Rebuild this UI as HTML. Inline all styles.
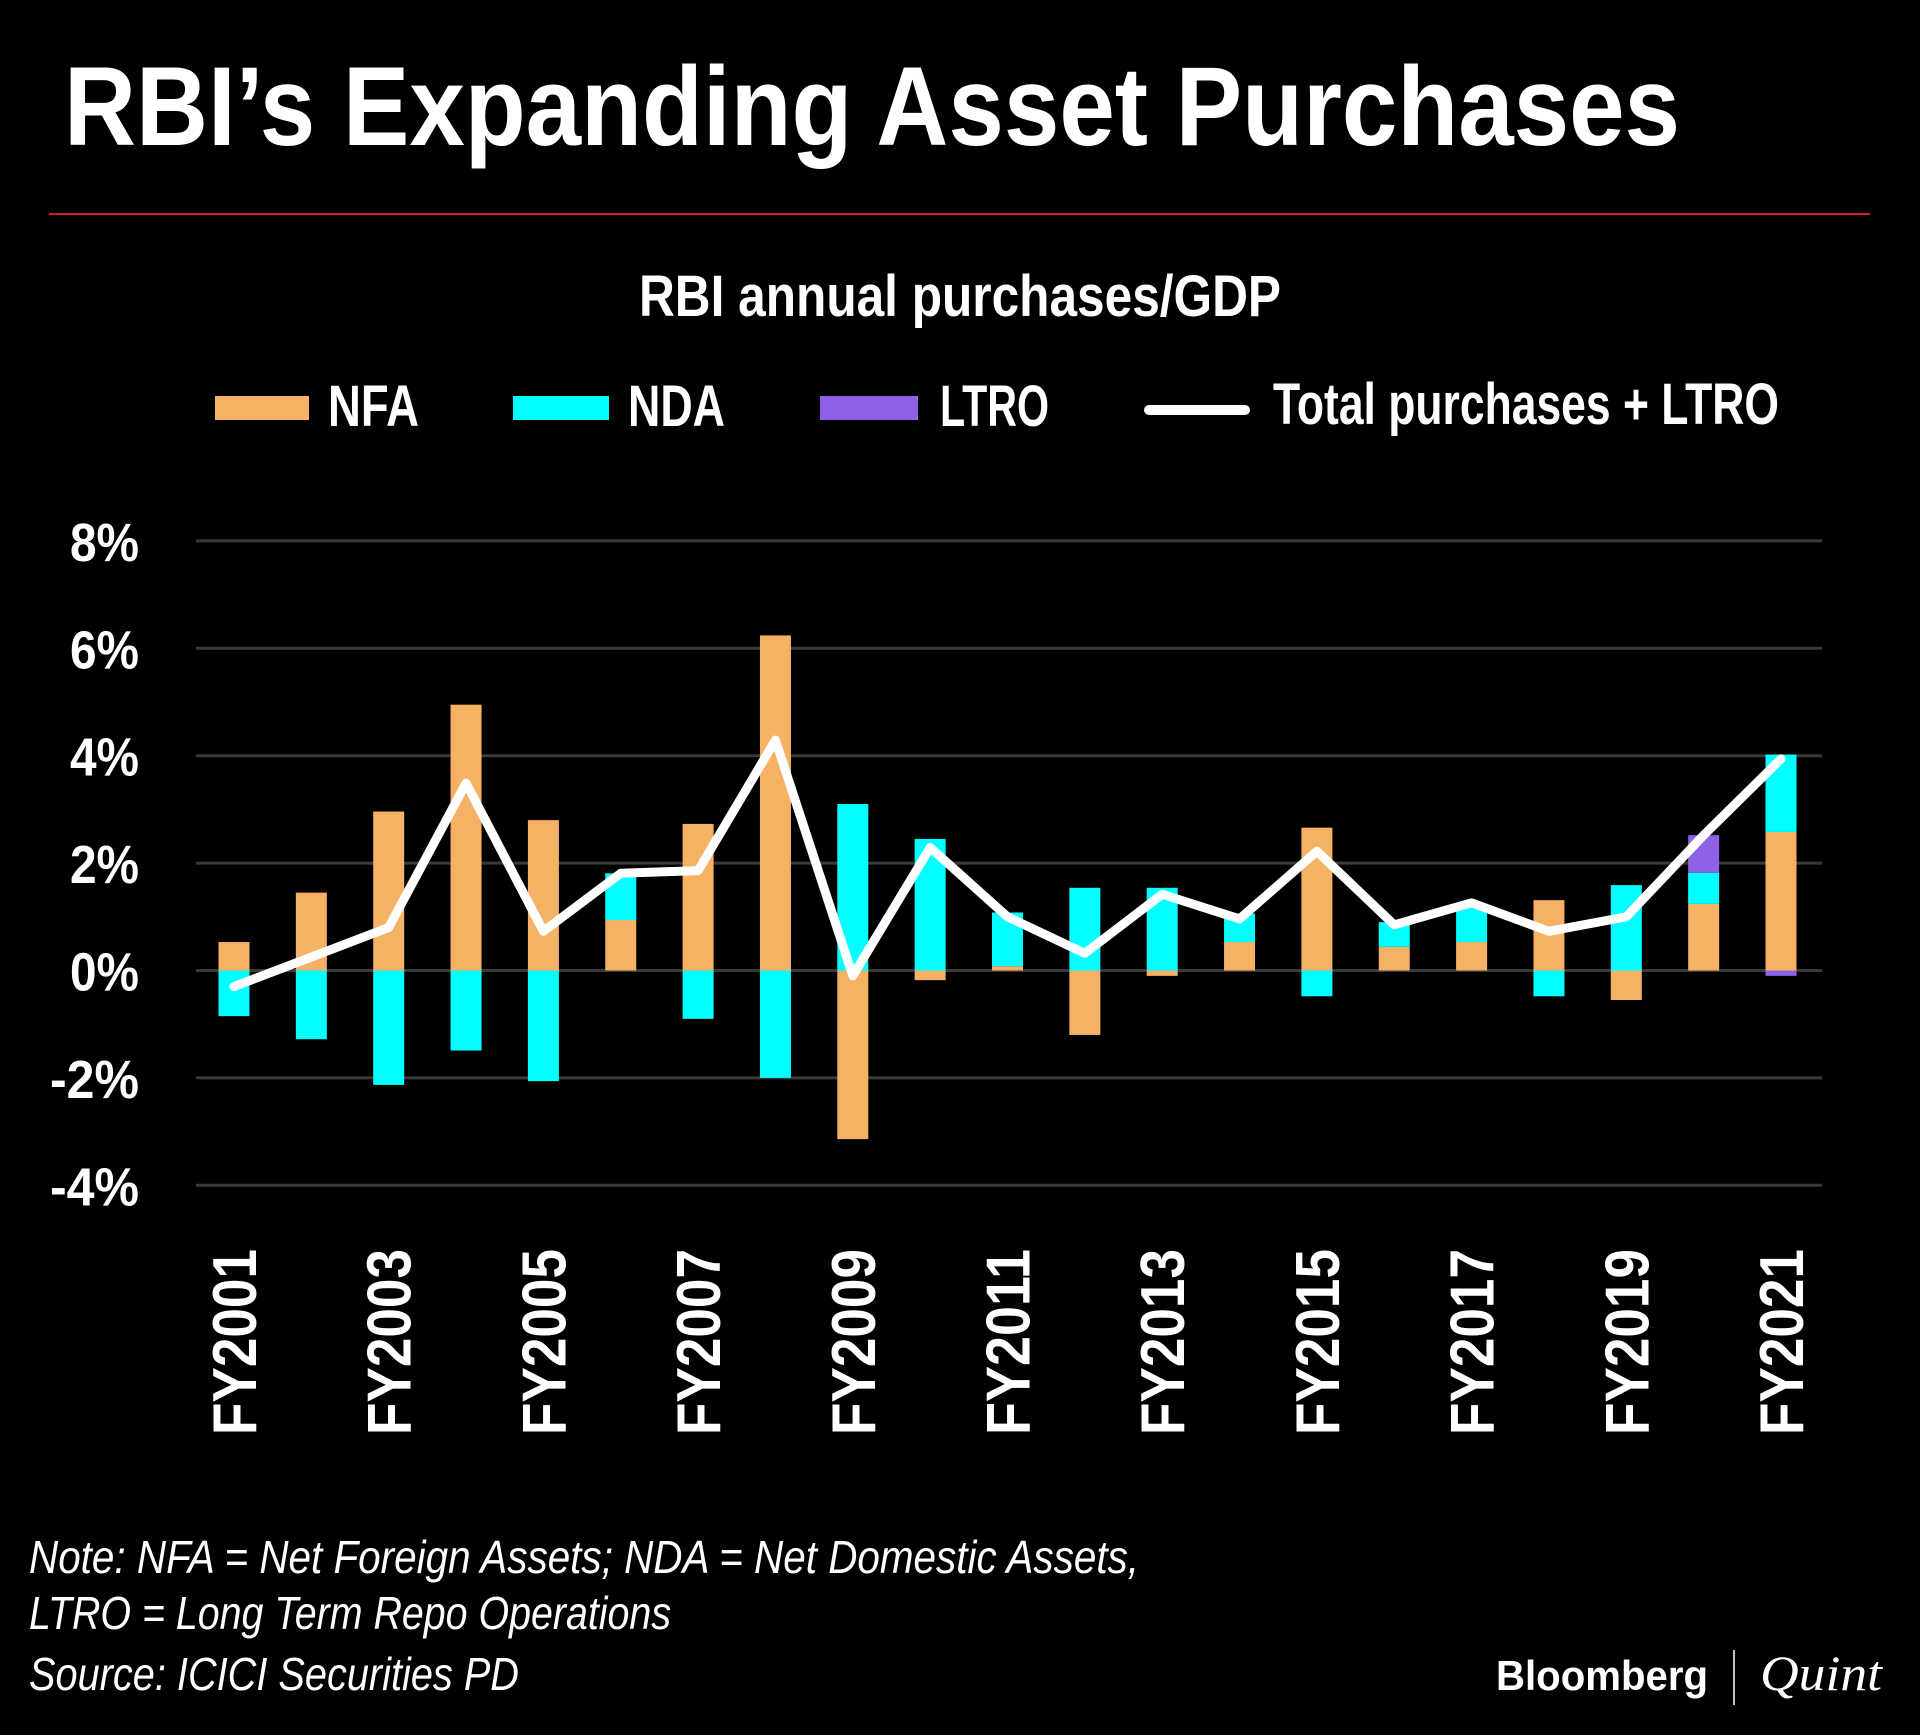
<!DOCTYPE html>
<html><head><meta charset="utf-8"><style>
html,body{margin:0;padding:0;background:#000;}
svg{display:block;}
.c{font-family:"Liberation Sans Narrow","Liberation Sans",sans-serif;fill:#fff;}
</style></head><body>
<svg id="chart" width="1920" height="1735" viewBox="0 0 1920 1735" xmlns="http://www.w3.org/2000/svg">
<rect width="1920" height="1735" fill="#000"/>
<text class="c" x="64" y="145" font-size="112" font-weight="bold" textLength="1616" lengthAdjust="spacingAndGlyphs">RBI’s Expanding Asset Purchases</text>
<line x1="49" y1="214" x2="1870" y2="214" stroke="#d0202a" stroke-width="2"/>
<text class="c" x="639" y="316" font-size="58" font-weight="bold" textLength="642" lengthAdjust="spacingAndGlyphs">RBI annual purchases/GDP</text>
<g>
<rect x="215" y="396" width="94" height="24" fill="#f5b264"/>
<text class="c" x="328" y="426" font-size="58" font-weight="bold" textLength="91" lengthAdjust="spacingAndGlyphs">NFA</text>
<rect x="513" y="396" width="96" height="24" fill="#00ffff"/>
<text class="c" x="628" y="426" font-size="58" font-weight="bold" textLength="97" lengthAdjust="spacingAndGlyphs">NDA</text>
<rect x="820" y="396" width="98" height="24" fill="#8e62e6"/>
<text class="c" x="940" y="426" font-size="58" font-weight="bold" textLength="109" lengthAdjust="spacingAndGlyphs">LTRO</text>
<line x1="1149" y1="410" x2="1245" y2="410" stroke="#fff" stroke-width="10" stroke-linecap="round"/>
<text class="c" x="1273" y="424" font-size="58" font-weight="bold" textLength="506" lengthAdjust="spacingAndGlyphs">Total purchases + LTRO</text>
</g>
<g id="grid"></g>
<g id="yaxis"></g>
<g id="bars"></g>
<g id="line"></g>
<g id="xaxis"></g>
<g>
<text class="c" x="29" y="1573" font-size="46" font-style="italic" textLength="1110" lengthAdjust="spacingAndGlyphs">Note: NFA = Net Foreign Assets; NDA = Net Domestic Assets,</text>
<text class="c" x="29" y="1629" font-size="46" font-style="italic" textLength="642" lengthAdjust="spacingAndGlyphs">LTRO = Long Term Repo Operations</text>
<text class="c" x="29" y="1690" font-size="46" font-style="italic" textLength="490" lengthAdjust="spacingAndGlyphs">Source: ICICI Securities PD</text>
</g>
<g>
<text x="1496" y="1690" font-family="'Liberation Sans',sans-serif" font-weight="bold" font-size="42" fill="#fff" textLength="212" lengthAdjust="spacingAndGlyphs">Bloomberg</text>
<line x1="1734" y1="1650" x2="1734" y2="1705" stroke="#fff" stroke-width="1.5"/>
<text x="1760" y="1690" font-family="'Liberation Serif',serif" font-style="italic" font-size="50" fill="#fff" textLength="122" lengthAdjust="spacingAndGlyphs">Quint</text>
</g>
</svg>
<script>
const years = ["FY2001","FY2002","FY2003","FY2004","FY2005","FY2006","FY2007","FY2008","FY2009","FY2010","FY2011","FY2012","FY2013","FY2014","FY2015","FY2016","FY2017","FY2018","FY2019","FY2020","FY2021"];
const nfa = [0.53,1.45,2.96,4.95,2.8,0.94,2.73,6.24,-3.14,-0.18,0.08,-1.2,-0.1,0.53,2.66,0.44,0.53,1.31,-0.55,1.24,2.58];
const nda = [-0.85,-1.28,-2.13,-1.49,-2.06,0.87,-0.9,-2.0,3.1,2.45,1.0,1.54,1.54,0.53,-0.48,0.46,0.71,-0.48,1.59,0.58,1.44];
const ltro = [0,0,0,0,0,0,0,0,0,0,0,0,0,0,0,0,0,0,0,0.7,-0.1];
const total = [-0.3,0.25,0.8,3.49,0.73,1.81,1.86,4.29,-0.1,2.29,1.0,0.32,1.42,0.96,2.22,0.85,1.26,0.73,1.0,2.52,3.94];
const yTicks = [8,6,4,2,0,-2,-4];
const yTickLabels = ["8%","6%","4%","2%","0%","-2%","-4%"];
const xLabelIdx = [0,2,4,6,8,10,12,14,16,18,20];

const NS="http://www.w3.org/2000/svg";
const y0=970.5, pxPer=53.7, x0=234, step=77.35, bw=31;
const yS=v=>y0-v*pxPer;
const xS=i=>x0+i*step;
function mk(t,a,p){const e=document.createElementNS(NS,t);for(const k in a)e.setAttribute(k,a[k]);p.appendChild(e);return e;}
const grid=document.getElementById('grid'), yax=document.getElementById('yaxis'), bars=document.getElementById('bars'), lg=document.getElementById('line'), xax=document.getElementById('xaxis');
yTicks.forEach((t,i)=>{
  const l=mk('line',{x1:196,x2:1822,y1:yS(t),y2:yS(t),stroke:'#3a3a3a','stroke-width':3},grid);
  
  
  const lab=yTickLabels[i];
  const tx=mk('text',{x:139,y:yS(t)+20,'text-anchor':'end','font-size':54,'font-weight':'bold',class:'c',textLength:lab.length>2?89:69,lengthAdjust:'spacingAndGlyphs'},yax);
  tx.textContent=lab;
  
  
});
function seg(i,a,b,col,name){
  if(a===b)return;
  const top=yS(Math.max(a,b)), bot=yS(Math.min(a,b));
  const r=mk('rect',{x:xS(i)-bw/2,y:top,width:bw,height:Math.max(bot-top,1),fill:col},bars);
  
  
}
years.forEach((yr,i)=>{
  let pos=0,neg=0;
  [[nfa[i],'#f5b264','bar-nfa'],[nda[i],'#00ffff','bar-nda'],[ltro[i],'#8e62e6','bar-ltro']].forEach(([v,c,n])=>{
    if(v>=0){seg(i,pos,pos+v,c,n);pos+=v;}else{seg(i,neg,neg+v,c,n);neg+=v;}
  });
});
const pts=total.map((v,i)=>xS(i)+','+yS(v)).join(' ');
const pl=mk('polyline',{points:pts,fill:'none',stroke:'#fff','stroke-width':9,'stroke-linejoin':'round','stroke-linecap':'round'},lg);


xLabelIdx.forEach(i=>{
  const cx=xS(i)+22;
  const t=mk('text',{x:0,y:0,transform:`translate(${cx},1249) rotate(-90)`,'text-anchor':'end','font-size':62,'font-weight':'bold',class:'c',textLength:186,lengthAdjust:'spacingAndGlyphs'},xax);
  t.textContent=years[i];
  
  
});
</script>
</body></html>
